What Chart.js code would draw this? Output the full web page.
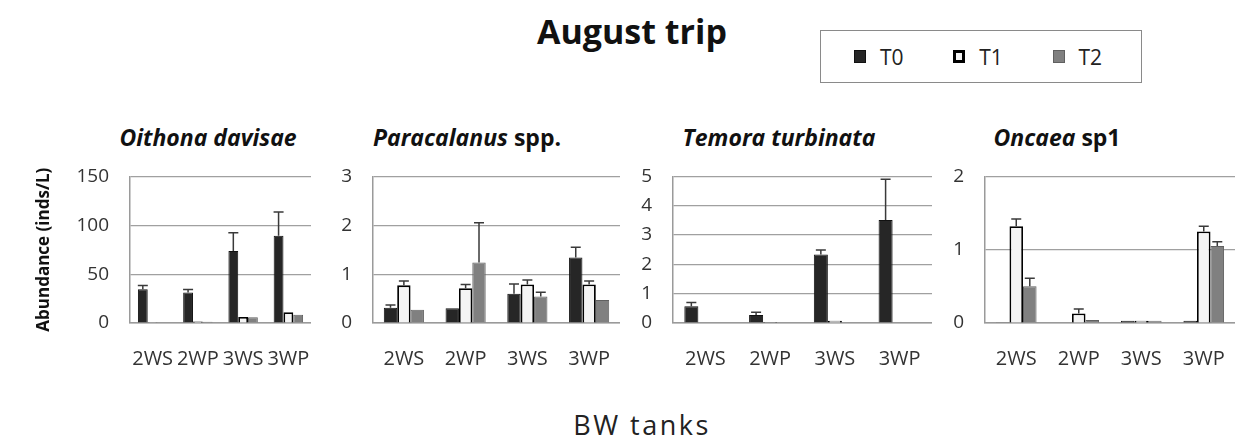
<!DOCTYPE html>
<html lang="en">
  <head>
    <meta charset="UTF-8" />
    <title>August trip</title>
    <script src="https://cdn.jsdelivr.net/npm/chart.js"></script>
    <style>
      body {
        margin: 0;
        background: #fff;
        font-family: "Open Sans", sans-serif;
      }
      #page {
        position: relative;
        width: 1241px;
        height: 440px;
        overflow: hidden;
      }
      .abs {
        position: absolute;
      }
      #mainTitle {
        left: 432px;
        width: 400px;
        top: 8px;
        text-align: center;
        font-weight: bold;
        font-size: 34px;
        color: #111;
      }
      #legend {
        left: 820px;
        top: 30px;
        width: 322px;
        height: 53px;
        border: 1px solid #8a8a8a;
        display: flex;
        align-items: center;
        justify-content: space-around;
        padding: 0 14px 0 8px;
        box-sizing: border-box;
        font-size: 21px;
        color: #222;
      }
      .item {
        display: flex;
        align-items: center;
      }
      .swatch {
        width: 12px;
        height: 13px;
        margin-right: 14px;
        box-sizing: border-box;
      }
      .ptitle {
        top: 121px;
        width: 300px;
        text-align: center;
        font-weight: bold;
        font-size: 23px;
        color: #111;
      }
      .ptitle i {
        font-style: italic;
      }
      #xTitle {
        left: 492px;
        width: 300px;
        top: 406px;
        text-align: center;
        font-size: 27px;
        letter-spacing: 2.5px;
        color: #222;
      }
      canvas {
        position: absolute;
      }
    </style>
  </head>
  <body>
    <div id="page">
      <div id="mainTitle" class="abs">August trip</div>
      <div id="legend" class="abs"></div>

      <div class="abs ptitle" style="left: 58px"><i>Oithona davisae</i></div>
      <div class="abs ptitle" style="left: 317px"><i>Paracalanus</i> spp.</div>
      <div class="abs ptitle" style="left: 629px"><i>Temora turbinata</i></div>
      <div class="abs ptitle" style="left: 907px"><i>Oncaea</i> sp1</div>

      <!-- plot top lands at canvas top + 32.4 (label half height + tick padding) -->
      <canvas id="c1" width="311" height="236" style="left: 0px; top: 144px"></canvas>
      <canvas id="c2" width="302" height="236" style="left: 318px; top: 144px"></canvas>
      <canvas id="c3" width="307" height="236" style="left: 625px; top: 144px"></canvas>
      <canvas id="c4" width="300" height="236" style="left: 935px; top: 144px"></canvas>

      <div id="xTitle" class="abs">BW tanks</div>
    </div>

    <script>
      // categories and series
      var tanks = ["2WS", "2WP", "3WS", "3WP"];
      var seriesNames = ["T0", "T1", "T2"];

      // Oithona davisae (mean, upper error)
      var oithonaT0 = [34.6, 31.2, 73.6, 89.2];
      var oithonaT1 = [0.8, 1.5, 6.1, 11.0];
      var oithonaT2 = [0.5, 1.2, 6.0, 8.5];
      var oithonaErrT0 = [3.7, 3.1, 18.7, 24.5];
      var oithonaErrT1 = [0, 0, 0, 0];
      var oithonaErrT2 = [0, 0, 0, 0];

      // Paracalanus spp.
      var paraT0 = [0.31, 0.3, 0.6, 1.34];
      var paraT1 = [0.77, 0.71, 0.79, 0.79];
      var paraT2 = [0.27, 1.24, 0.54, 0.47];
      var paraErrT0 = [0.06, 0, 0.2, 0.21];
      var paraErrT1 = [0.09, 0.08, 0.09, 0.07];
      var paraErrT2 = [0, 0.81, 0.09, 0];

      // Temora turbinata
      var temoraT0 = [0.57, 0.27, 2.34, 3.51];
      var temoraT1 = [0, 0.03, 0.08, 0];
      var temoraT2 = [0, 0, 0, 0];
      var temoraErrT0 = [0.13, 0.1, 0.15, 1.39];
      var temoraErrT1 = [0, 0, 0, 0];
      var temoraErrT2 = [0, 0, 0, 0];

      // Oncaea sp1
      var oncaeaT0 = [0.01, 0, 0.03, 0.03];
      var oncaeaT1 = [1.32, 0.13, 0.03, 1.25];
      var oncaeaT2 = [0.5, 0.04, 0.03, 1.05];
      var oncaeaErrT0 = [0, 0, 0, 0];
      var oncaeaErrT1 = [0.1, 0.06, 0, 0.07];
      var oncaeaErrT2 = [0.11, 0, 0, 0.06];

      // y axis ranges per panel
      var yMax = [150, 3, 5, 2];
      var yStep = [50, 1, 1, 1];

      var fills = ["#262626", "#f4f4f4", "#808080"];
      var borders = ["#111111", "#000000", "#606060"];
      var borderWidths = [1, 1.8, 1];

      // legend
      var legend = document.getElementById("legend");
      seriesNames.forEach(function (name, i) {
        var item = document.createElement("div");
        item.className = "item";
        var sw = document.createElement("span");
        sw.className = "swatch";
        sw.style.background = fills[i];
        sw.style.border = (i == 1 ? 3 : 1) + "px solid " + borders[i];
        item.appendChild(sw);
        item.appendChild(document.createTextNode(name));
        legend.appendChild(item);
      });

      // simple upward error bars drawn through the y scale
      var errorBars = {
        id: "errorBars",
        afterDatasetsDraw: function (chart) {
          var ctx = chart.ctx;
          var y = chart.scales.y;
          chart.data.datasets.forEach(function (ds, i) {
            var meta = chart.getDatasetMeta(i);
            meta.data.forEach(function (bar, j) {
              var e = ds.errors[j];
              if (!e) return;
              var top = y.getPixelForValue(ds.data[j] + e);
              ctx.save();
              ctx.strokeStyle = "#3a3a3a";
              ctx.lineWidth = 1.5;
              ctx.beginPath();
              ctx.moveTo(bar.x, bar.y);
              ctx.lineTo(bar.x, top);
              ctx.moveTo(bar.x - 5, top);
              ctx.lineTo(bar.x + 5, top);
              ctx.stroke();
              ctx.restore();
            });
          });
        },
      };

      function makePanel(id, idx, values, errors, yWidth, withTitle) {
        new Chart(document.getElementById(id), {
          type: "bar",
          data: {
            labels: tanks,
            datasets: values.map(function (v, i) {
              return {
                label: seriesNames[i],
                data: v,
                errors: errors[i],
                backgroundColor: fills[i],
                borderColor: borders[i],
                borderWidth: borderWidths[i],
                categoryPercentage: 0.65,
                barPercentage: 1,
              };
            }),
          },
          options: {
            responsive: false,
            animation: false,
            layout: { padding: 0 },
            plugins: { legend: { display: false }, tooltip: { enabled: false } },
            scales: {
              x: {
                // hidden tick length keeps labels off the axis without
                // widening the scale padding
                grid: { display: false, drawTicks: true, tickLength: 24 },
                border: { display: true, color: "#9a9a9a", width: 1.5 },
                ticks: {
                  autoSkip: false,
                  maxRotation: 0,
                  padding: 0,
                  color: "#333",
                  font: { family: "Open Sans", size: 20 },
                },
                afterFit: function (s) {
                  s.height = 57;
                },
              },
              y: {
                min: 0,
                max: yMax[idx],
                grid: { color: "#a0a0a0", lineWidth: 1.2, drawTicks: false },
                border: { display: true, color: "#9a9a9a", width: 1.5 },
                ticks: {
                  stepSize: yStep[idx],
                  padding: 21,
                  color: "#333",
                  font: { family: "Open Sans", size: 19 },
                },
                title: {
                  display: withTitle,
                  text: "Abundance (inds/L)",
                  color: "#111",
                  font: { family: "Open Sans", size: 17, weight: "bold" },
                  padding: { top: 34, bottom: 0 },
                },
                afterFit: function (s) {
                  s.width = yWidth;
                },
              },
            },
          },
          plugins: [errorBars],
        });
      }

      makePanel("c1", 0, [oithonaT0, oithonaT1, oithonaT2],
        [oithonaErrT0, oithonaErrT1, oithonaErrT2], 130, true);
      makePanel("c2", 1, [paraT0, paraT1, paraT2],
        [paraErrT0, paraErrT1, paraErrT2], 55, false);
      makePanel("c3", 2, [temoraT0, temoraT1, temoraT2],
        [temoraErrT0, temoraErrT1, temoraErrT2], 48, false);
      makePanel("c4", 3, [oncaeaT0, oncaeaT1, oncaeaT2],
        [oncaeaErrT0, oncaeaErrT1, oncaeaErrT2], 50, false);
    </script>
  </body>
</html>
